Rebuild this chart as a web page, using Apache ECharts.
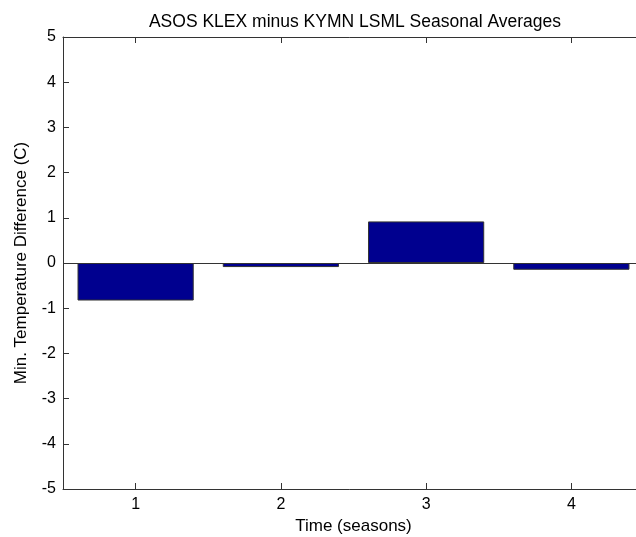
<!DOCTYPE html>
<html>
<head>
<meta charset="utf-8">
<script src="https://cdn.jsdelivr.net/npm/echarts@6/dist/echarts.min.js"></script>
<style>
  html, body { margin: 0; padding: 0; background: #fff; }
  #main { width: 636px; height: 537px; }
</style>
</head>
<body>
<div id="main"></div>
<script>
// seasons on the x axis, seasonal mean min-temp difference (C)
var seasons = ['1', '2', '3', '4'];
var tempDiff = [-0.83, -0.09, 0.92, -0.15];
var yTicks = [-5, -4, -3, -2, -1, 0, 1, 2, 3, 4, 5];

(function () {
  var chart = echarts.init(document.getElementById('main'));
  var font = "'Liberation Sans', Arial, Helvetica, sans-serif";
  var axisCol = '#333';

  var option = {
    backgroundColor: '#fff',
    animation: false,
    title: {
      text: 'ASOS KLEX minus KYMN LSML Seasonal Averages',
      left: 350,
      textAlign: 'center',
      top: 8,
      textStyle: { fontFamily: font, fontSize: 17.5, fontWeight: 'normal', color: '#000' }
    },
    // the plot runs past the right edge of the canvas (x range 0.5..4.5)
    grid: { left: 63, top: 37, width: 581, height: 452, outerBoundsMode: 'none', containLabel: false },
    xAxis: [
      {
        type: 'category',
        data: seasons,
        position: 'bottom',
        name: 'Time (seasons)',
        nameLocation: 'middle',
        nameGap: 28,
        nameTextStyle: { fontFamily: font, fontSize: 17, color: '#000' },
        axisLine: { onZero: false, lineStyle: { color: axisCol, width: 1 } },
        axisTick: { show: true, inside: true, length: 6, alignWithLabel: true, lineStyle: { color: axisCol } },
        axisLabel: { fontFamily: font, fontSize: 16, color: '#000', margin: 8 }
      },
      {
        type: 'category',
        data: seasons,
        position: 'top',
        axisLine: { onZero: false, lineStyle: { color: axisCol, width: 1 } },
        axisTick: { show: true, inside: true, length: 6, alignWithLabel: true, lineStyle: { color: axisCol } },
        axisLabel: { show: false }
      }
    ],
    yAxis: {
      type: 'value',
      min: yTicks[0],
      max: yTicks[yTicks.length - 1],
      interval: 1,
      name: 'Min. Temperature Difference (C)',
      nameLocation: 'middle',
      nameGap: 33,
      nameTextStyle: { fontFamily: font, fontSize: 17, color: '#000' },
      axisLine: { show: true, lineStyle: { color: axisCol, width: 1 } },
      axisTick: { show: true, inside: true, length: 6, lineStyle: { color: axisCol } },
      axisLabel: { fontFamily: font, fontSize: 16, color: '#000', margin: 7 },
      splitLine: { show: false }
    },
    series: [
      {
        type: 'bar',
        data: tempDiff,
        barWidth: '80%',
        itemStyle: { color: '#00008f', borderColor: '#333', borderWidth: 1 },
        markLine: {
          silent: true,
          symbol: 'none',
          label: { show: false },
          lineStyle: { color: axisCol, type: 'solid', width: 1 },
          data: [{ yAxis: 0 }]
        }
      }
    ]
  };

  chart.setOption(option);
})();
</script>
</body>
</html>
